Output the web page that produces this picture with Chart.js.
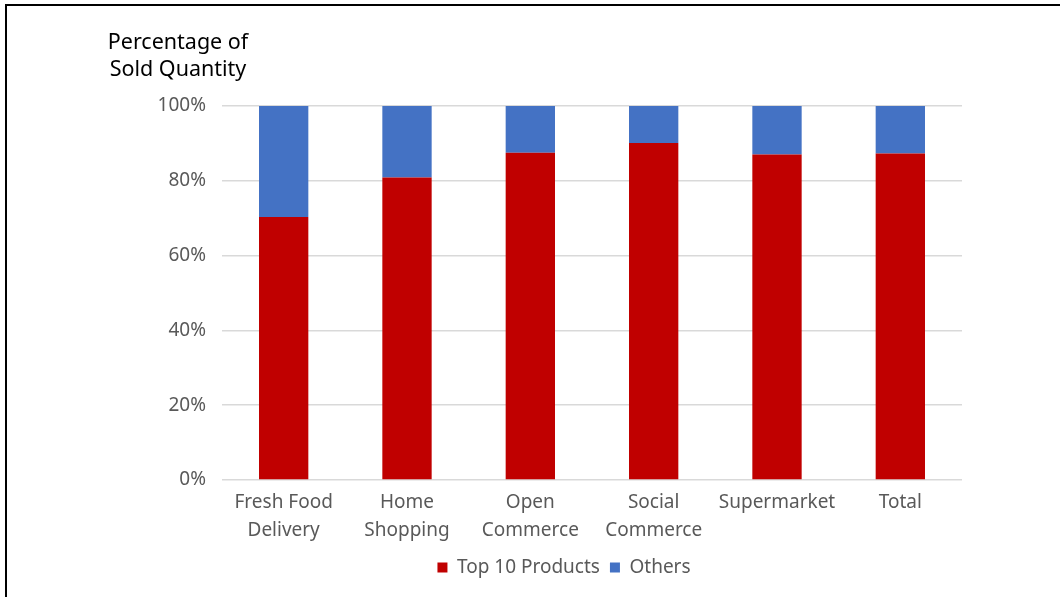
<!DOCTYPE html>
<html>
<head>
<meta charset="utf-8">
<script src="https://cdn.jsdelivr.net/npm/chart.js@4/dist/chart.umd.min.js"></script>
<style>
  html, body { margin: 0; padding: 0; background: #fff; }
  canvas { display: block; }
</style>
</head>
<body>
<canvas id="chart" width="1060" height="597"></canvas>
<script>
// Share of sold quantity by sales channel (100% stacked)
const categories = [
  ['Fresh Food', 'Delivery'],
  ['Home', 'Shopping'],
  ['Open', 'Commerce'],
  ['Social', 'Commerce'],
  ['Supermarket'],
  ['Total']
];
const top10Share  = [70.3, 80.9, 87.5, 90.1, 87.0, 87.3];
const otherShare  = [29.7, 19.1, 12.5,  9.9, 13.0, 12.7];
const yTicks = [0, 20, 40, 60, 80, 100];
const titleLines = ['Percentage of', 'Sold Quantity'];

const FONT = "'Noto Sans', 'Liberation Sans', sans-serif";
const TEXT = '#595959';

const framePlugin = {
  id: 'frame',
  beforeDraw(chart) {
    const ctx = chart.ctx;
    ctx.save();
    ctx.fillStyle = '#fff';
    ctx.fillRect(0, 0, chart.width, chart.height);
    ctx.strokeStyle = '#000';
    ctx.lineWidth = 2;
    ctx.beginPath();
    ctx.moveTo(chart.width, 5);
    ctx.lineTo(6, 5);
    ctx.lineTo(6, chart.height);
    ctx.stroke();
    ctx.restore();
  },
  afterDraw(chart) {
    const ctx = chart.ctx;
    ctx.save();
    ctx.fillStyle = '#000';
    ctx.font = "21.5px " + FONT;
    ctx.textAlign = 'center';
    ctx.textBaseline = 'middle';
    titleLines.forEach((t, i) => ctx.fillText(t, 178, 43 + i * 27));
    ctx.restore();
  }
};

new Chart(document.getElementById('chart'), {
  type: 'bar',
  data: {
    labels: categories,
    datasets: [
      { label: 'Top 10 Products', data: top10Share, backgroundColor: '#C00000',
        barPercentage: 0.4, categoryPercentage: 1.0 },
      { label: 'Others', data: otherShare, backgroundColor: '#4472C4',
        barPercentage: 0.4, categoryPercentage: 1.0 }
    ]
  },
  options: {
    responsive: false,
    animation: false,
    layout: { padding: { left: 68, right: 0, top: 106, bottom: 10 } },
    plugins: {
      legend: {
        position: 'bottom',
        labels: {
          boxWidth: 10, boxHeight: 10, padding: 10,
          color: TEXT, font: { family: FONT, size: 19 }
        }
      },
      tooltip: { enabled: false },
      title: { display: false }
    },
    scales: {
      x: {
        stacked: true,
        grid: { display: false },
        border: { display: false },
        ticks: { color: TEXT, font: { family: FONT, size: 19, lineHeight: 1.5 }, padding: 0, maxRotation: 0 },
        afterFit(scale) { scale.height = 68; }
      },
      y: {
        stacked: true,
        min: 0, max: 100,
        afterBuildTicks(scale) { scale.ticks = yTicks.map(v => ({ value: v })); },
        grid: { color: '#D9D9D9', lineWidth: 1.5, drawTicks: false },
        border: { display: false },
        ticks: {
          color: TEXT, font: { family: FONT, size: 19 }, padding: 16,
          callback: v => v + '%'
        },
        afterFit(scale) { scale.width = 154; }
      },
      // empty margin on the right of the plot
      yRight: {
        position: 'right',
        display: true,
        grid: { display: false },
        border: { display: false },
        ticks: { display: false },
        afterFit(scale) { scale.width = 98; }
      }
    }
  },
  plugins: [framePlugin]
});
</script>
</body>
</html>
